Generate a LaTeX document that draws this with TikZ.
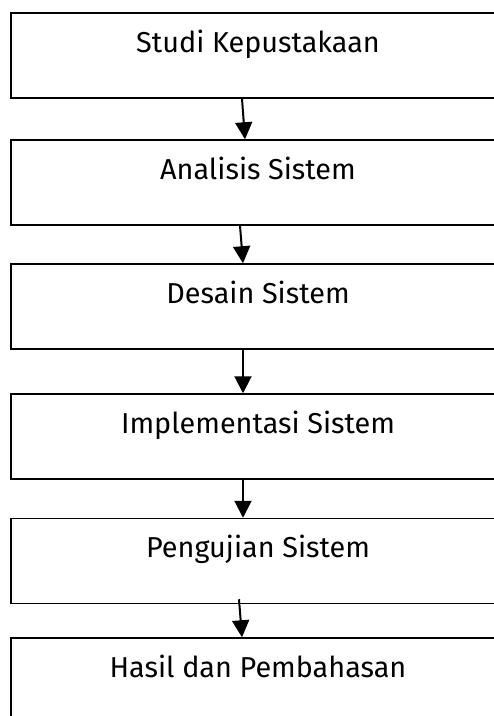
\documentclass[tikz,border=0pt]{standalone}
\usepackage{fontspec}
\setmainfont{Fira Sans}
\usetikzlibrary{arrows.meta}

\begin{document}
\begin{tikzpicture}[x=1pt,y=-1pt]
	\tikzstyle{tahap}=[draw=black, line width=1.5pt, rectangle, minimum width=494pt, inner sep=0pt, text height=39pt, text depth=46pt, font=\fontsize{28.8}{34}\selectfont]
	\tikzstyle{panah}=[-{Triangle[length=17pt,width=17pt]}, line width=2pt]
	\useasboundingbox (0,0) rectangle (494,716);
	\node [tahap] (studi) at (258,55.5) {Studi Kepustakaan};
	\node [tahap] (analisis) at (258,182.5) {Analisis Sistem};
	\node [tahap] (desain) at (258,306.5) {Desain Sistem};
	\node [tahap] (implementasi) at (258,436.5) {Implementasi Sistem};
	\node [tahap] (pengujian) at (258,561) {Pengujian Sistem};
	\node [tahap] (hasil) at (258,680.5) {Hasil dan Pembahasan};
	\draw [panah] ([xshift=-16pt]studi.south) -- ([xshift=-13pt]analisis.north);
	\draw [panah] ([xshift=-18pt]analisis.south) -- ([xshift=-15pt]desain.north);
	\draw [panah] ([xshift=-15pt]desain.south) -- ([xshift=-15pt]implementasi.north);
	\draw [panah] ([xshift=-15pt]implementasi.south) -- ([xshift=-15pt]pengujian.north);
	\draw [panah] ([xshift=-19pt,yshift=5pt]pengujian.south) -- ([xshift=-16pt]hasil.north);
\end{tikzpicture}
\end{document}
